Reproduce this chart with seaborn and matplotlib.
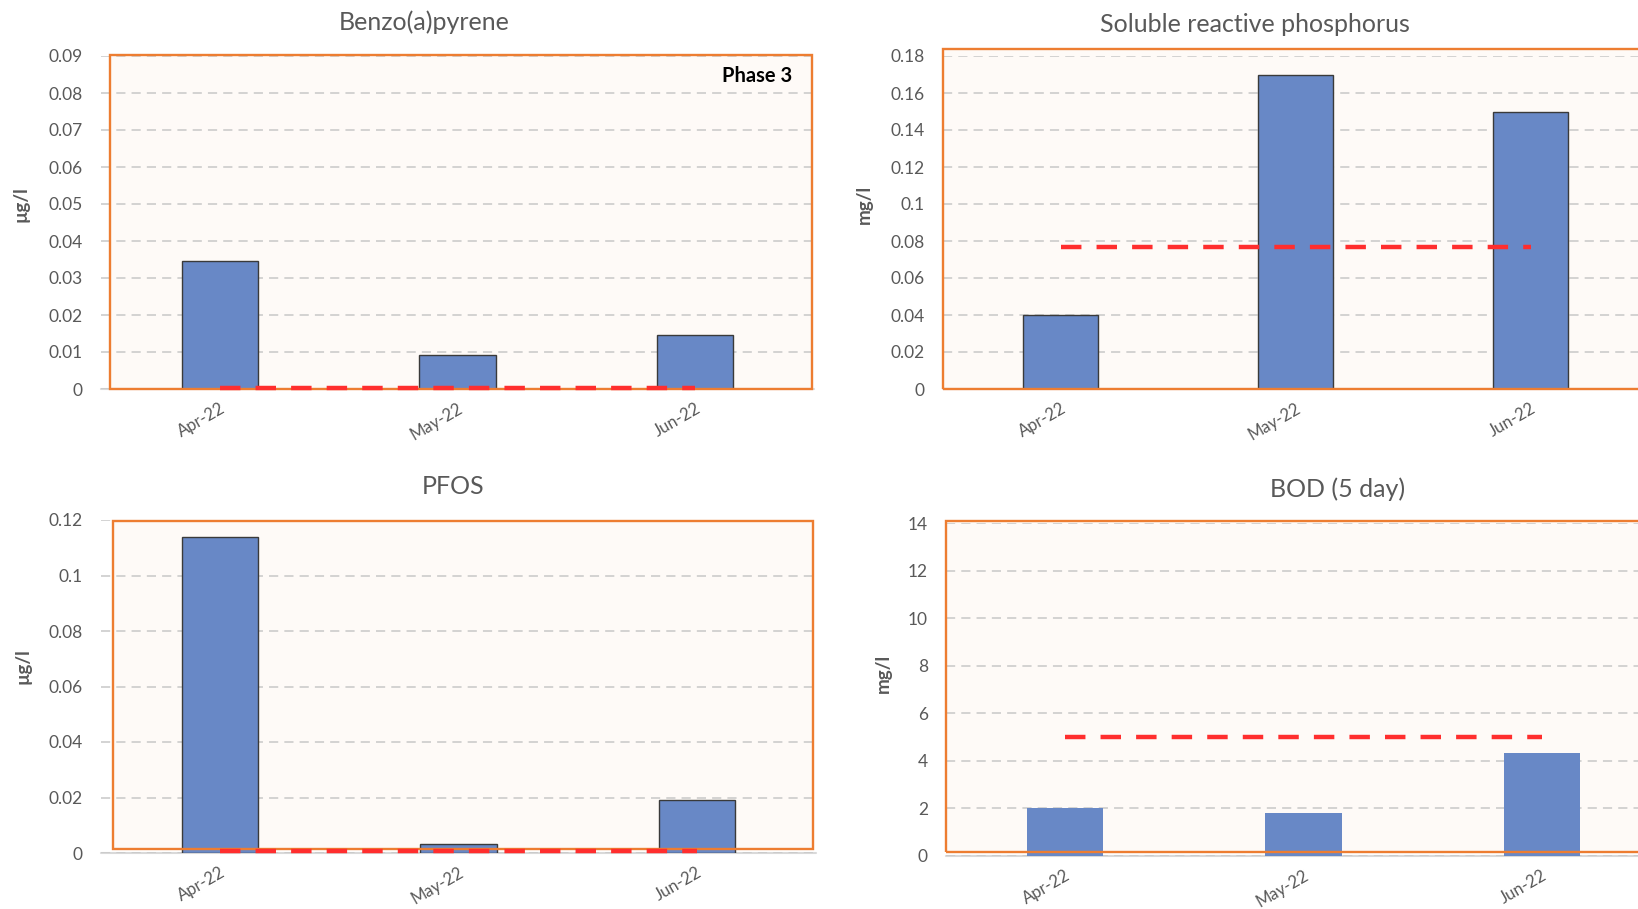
import numpy as np
import pandas as pd
import matplotlib
matplotlib.use("Agg")
import matplotlib.pyplot as plt
import seaborn as sns
from matplotlib.patches import Rectangle
from matplotlib.ticker import FuncFormatter, MultipleLocator

# datos
months = ["Apr-22", "May-22", "Jun-22"]

benzo = [0.0345, 0.0092, 0.0146]
srp = [0.04, 0.17, 0.15]
pfos = [0.114, 0.0034, 0.0192]
bod = [2.0, 1.8, 4.35]

benzo_limit = 0.00017
srp_limit = 0.077
pfos_limit = 0.00065
bod_limit = 5.0

titles = ["Benzo(a)pyrene", "Soluble reactive phosphorus", "PFOS", "BOD (5 day)"]
units = ["\u00b5g/l", "mg/l", "\u00b5g/l", "mg/l"]

sns.set_style("white")
plt.rcParams['font.family'] = ['Lato', 'DejaVu Sans']

W, H = 1638, 909
fig = plt.figure(figsize=(W / 100, H / 100), dpi=100)
fig.patch.set_facecolor("white")

text_grey = "#595959"
bar_blue = "#6888C6"
orange = "#ED7D31"
bg = "#FEFAF7"

# left, right, top, bottom en pixeles; caja naranja en fraccion de ejes
panels = [
    dict(box=(101, 814, 56, 389), frame=(0.013, 0.997, 0.0, 1.003), ymax=0.09, step=0.01,
         vals=benzo, limit=benzo_limit, edge=True, title_xy=(424, 22), ylab=(-0.100, 0.556)),
    dict(box=(943, 1648, 56, 389), frame=(0.0, 1.0, 0.0, 1.02), ymax=0.18, step=0.02,
         vals=srp, limit=srp_limit, edge=True, title_xy=(1255, 24), ylab=(-0.099, 0.553)),
    dict(box=(101, 816, 520, 853), frame=(0.017, 0.996, 0.012, 0.997), ymax=0.12, step=0.02,
         vals=pfos, limit=pfos_limit, edge=True, title_xy=(453, 487), ylab=(-0.097, 0.56)),
    dict(box=(946, 1661, 523, 856), frame=(0.0, 1.0, 0.012, 1.006), ymax=14, step=2,
         vals=bod, limit=bod_limit, edge=False, title_xy=(1338, 489), ylab=(-0.076, 0.547)),
]

for i, p in enumerate(panels):
    l, r, t, b = p["box"]
    ax = fig.add_axes([l / W, (H - b) / H, (r - l) / W, (b - t) / H])
    ax.set_facecolor("none")

    df = pd.DataFrame({"month": months, "value": p["vals"]})
    sns.barplot(data=df, x="month", y="value", ax=ax, color=bar_blue, width=0.32,
                saturation=1, edgecolor="#3A3A3A" if p["edge"] else bar_blue,
                linewidth=1.0 if p["edge"] else 0, zorder=2)

    xs = np.arange(len(months))
    ax.plot(xs, [p["limit"]] * len(months), color="#FF2E2E", lw=3.2,
            linestyle=(0, (4.6, 3.4)), dash_capstyle="butt", zorder=5, clip_on=False)

    ax.set_xlim(-0.5, len(months) - 0.5)
    ax.set_ylim(0, p["ymax"])
    ax.yaxis.set_major_locator(MultipleLocator(p["step"]))
    ax.yaxis.set_major_formatter(FuncFormatter(lambda v, pos: f"{round(v, 4):g}"))

    ax.set_axisbelow(True)
    ax.yaxis.grid(True, color="#C8C8C8", linestyle=(0, (6, 4)), linewidth=1.1)
    ax.xaxis.grid(False)
    for s in ax.spines.values():
        s.set_visible(False)

    # caja naranja con fondo
    x0, x1, y0, y1 = p["frame"]
    ax.add_patch(Rectangle((x0, y0), x1 - x0, y1 - y0, transform=ax.transAxes,
                           facecolor=bg, edgecolor="none", zorder=0.1, clip_on=False))
    ax.add_patch(Rectangle((x0, y0), x1 - x0, y1 - y0, transform=ax.transAxes,
                           fill=False, edgecolor=orange, lw=1.7, zorder=3, clip_on=False))

    # eje x gris
    ax.axhline(0, color="#D9D9D9", lw=1.5, zorder=0.3, clip_on=False)
    ax.set_xticks(xs)
    ax.set_xticklabels(months, rotation=30, ha="right", rotation_mode="anchor")
    ax.set_xticks(np.arange(len(months) + 1) - 0.5, minor=True)
    ax.tick_params(axis="x", which="major", length=0, pad=8, labelsize=12, labelcolor=text_grey)
    ax.tick_params(axis="x", which="minor", length=6, width=1.2, color="#D9D9D9", direction="out")
    ax.tick_params(axis="y", length=0, pad=13, labelsize=12.5, labelcolor=text_grey)

    ax.set_xlabel("")
    ax.set_ylabel(units[i], fontsize=13.5, color=text_grey, fontweight="bold")
    ax.yaxis.set_label_coords(*p["ylab"])

    tx, ty = p["title_xy"]
    fig.text(tx / W, 1 - ty / H, titles[i], ha="center", va="center",
             fontsize=18, color=text_grey)

    if i == 0:
        ax.text(0.969, 0.94, "Phase 3", transform=ax.transAxes, ha="right", va="center",
                fontsize=14.5, fontweight="bold", color="black")

fig.savefig("out.png", dpi=100)
